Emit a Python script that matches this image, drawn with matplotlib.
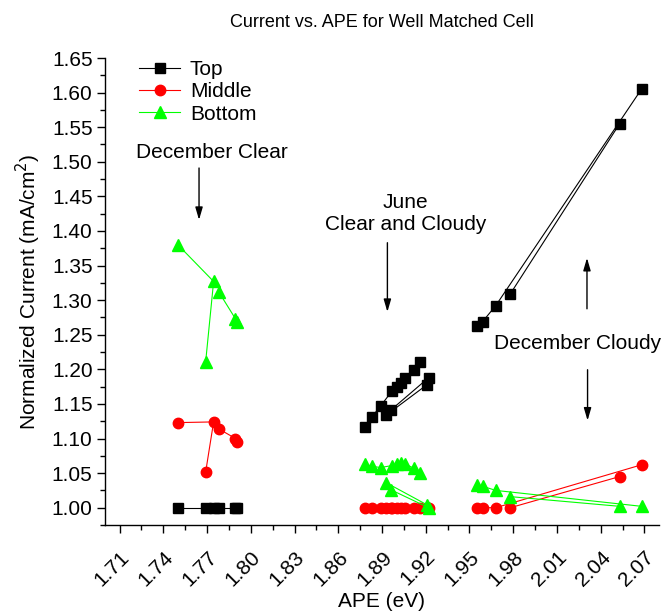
import numpy as np
import matplotlib
matplotlib.use('Agg')
import matplotlib.pyplot as plt
from matplotlib.ticker import MultipleLocator, FormatStrFormatter

plt.rcParams['font.family'] = ['Liberation Sans', 'DejaVu Sans']

# December clear days
dec_clear_ape = [1.750, 1.769, 1.7745, 1.778, 1.7895, 1.7905]
dec_clear_top = [1.000, 1.000, 1.000, 1.000, 1.000, 1.000]
dec_clear_mid = [1.123, 1.051, 1.124, 1.114, 1.100, 1.095]
dec_clear_bot = [1.380, 1.210, 1.327, 1.312, 1.273, 1.269]
dec_clear_runs = [[0, 2, 1], [3, 4, 5]]

# June clear and cloudy
june_ape = [1.878, 1.883, 1.889, 1.897, 1.900, 1.903, 1.906, 1.912, 1.916,
            1.893, 1.921, 1.896, 1.922]
june_top = [1.117, 1.131, 1.147, 1.169, 1.175, 1.180, 1.187, 1.199, 1.210,
            1.134, 1.178, 1.141, 1.188]
june_mid = [1.000, 1.000, 1.000, 1.000, 1.000, 1.000, 1.000, 1.000, 1.000,
            1.000, 1.000, 1.000, 1.000]
june_bot = [1.063, 1.060, 1.058, 1.061, 1.063, 1.064, 1.063, 1.057, 1.050,
            1.036, 1.004, 1.026, 1.000]
june_runs = [list(range(9)), [9, 10], [11, 12]]

# December cloudy days
dec_cloudy_ape = [1.955, 1.959, 1.968, 1.978, 2.053, 2.068]
dec_cloudy_top = [1.262, 1.269, 1.292, 1.309, 1.555, 1.605]
dec_cloudy_mid = [1.000, 1.000, 1.000, 1.000, 1.045, 1.062]
dec_cloudy_bot = [1.033, 1.031, 1.025, 1.016, 1.002, 1.002]
dec_cloudy_runs = [[0, 1, 2, 5], [3, 4]]

x_ticks = [1.71, 1.74, 1.77, 1.80, 1.83, 1.86, 1.89, 1.92, 1.95, 1.98, 2.01, 2.04, 2.07]

groups = [
    (dec_clear_ape, dec_clear_top, dec_clear_mid, dec_clear_bot, dec_clear_runs),
    (june_ape, june_top, june_mid, june_bot, june_runs),
    (dec_cloudy_ape, dec_cloudy_top, dec_cloudy_mid, dec_cloudy_bot, dec_cloudy_runs),
]

styles = [('Top', 'black', 's', 7), ('Middle', '#ff0000', 'o', 7.5), ('Bottom', '#00ff00', '^', 8)]

fig = plt.figure(figsize=(6.66, 6.13), dpi=100)
ax = fig.add_axes([105 / 666, 1 - 525 / 613, 554 / 666, 467 / 613])

for k, (name, col, mk, ms) in enumerate(styles):
    first = True
    for g in groups:
        ape = np.array(g[0])
        vals = np.array(g[1 + k])
        for run in g[4]:
            ax.plot(ape[run], vals[run], color=col, marker=mk, markersize=ms,
                    lw=0.8, label=name if first else None, clip_on=False)
            first = False

ax.set_xlim(1.70, 2.08)
ax.set_ylim(0.975, 1.65)
ax.xaxis.set_minor_locator(MultipleLocator(0.015))
ax.set_xticks(x_ticks)
ax.xaxis.set_major_formatter(FormatStrFormatter('%.2f'))
ax.yaxis.set_major_locator(MultipleLocator(0.05))
ax.yaxis.set_minor_locator(MultipleLocator(0.025))
ax.yaxis.set_major_formatter(FormatStrFormatter('%.2f'))

for s in ['top', 'right']:
    ax.spines[s].set_visible(False)
for s in ['left', 'bottom']:
    ax.spines[s].set_linewidth(1.0)

ax.tick_params(axis='both', which='major', direction='out', length=6, width=1,
               labelsize=15)
ax.tick_params(axis='both', which='minor', direction='out', length=3.5, width=1)
ax.tick_params(axis='y', which='major', pad=3)
ax.tick_params(axis='x', which='major', pad=10)
plt.setp(ax.get_xticklabels(), rotation=45, ha='right', va='top',
         rotation_mode='anchor')

ax.set_xlabel('APE (eV)', fontsize=15, labelpad=2)
ax.set_ylabel('Normalized Current (mA/cm$^2$)', fontsize=15, labelpad=6)
ax.set_title('Current vs. APE for Well Matched Cell', fontsize=13, pad=22)

ax.legend(loc='upper left', bbox_to_anchor=(0.061, 0.995), frameon=False,
          fontsize=15, handlelength=2.0, handletextpad=0.45, labelspacing=0.15,
          borderpad=0, borderaxespad=0)

arrow = dict(arrowstyle='-|>,head_length=0.75,head_width=0.22', color='black',
             lw=1, shrinkA=0, shrinkB=0)

ax.text(1.773, 1.513, 'December Clear', fontsize=15, ha='center', va='center')
ax.annotate('', xy=(1.7645, 1.416), xytext=(1.7645, 1.491), arrowprops=arrow)

ax.text(1.906, 1.425, 'June\nClear and Cloudy', fontsize=15, ha='center',
        va='center', linespacing=1.2)
ax.annotate('', xy=(1.8937, 1.283), xytext=(1.8937, 1.383), arrowprops=arrow)

ax.text(2.0244, 1.237, 'December Cloudy', fontsize=15, ha='center', va='center')
ax.annotate('', xy=(2.0306, 1.361), xytext=(2.0306, 1.2875), arrowprops=arrow)
ax.annotate('', xy=(2.031, 1.126), xytext=(2.031, 1.1994), arrowprops=arrow)

fig.savefig('out.png', dpi=100)
